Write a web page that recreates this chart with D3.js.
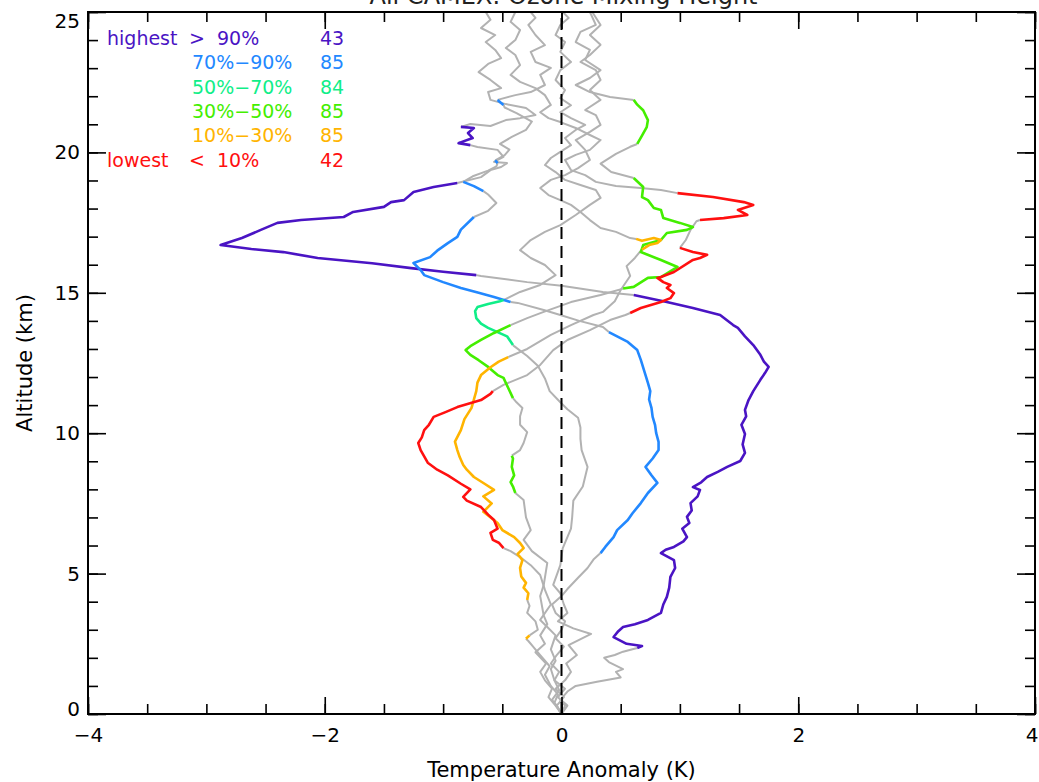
<!DOCTYPE html>
<html>
<head>
<meta charset="utf-8">
<script src="https://cdn.jsdelivr.net/npm/d3@7"></script>
<style>
  body { margin: 0; background: #fff; }
  svg { display: block; }
  text { font-family: "DejaVu Sans", sans-serif; }
</style>
</head>
<body>
<svg id="chart" width="1039" height="782"></svg>
<script>
// ---- data ----
const chartTitle = "All CAMEX: Ozone Mixing Height";
const xLabel = "Temperature Anomaly (K)";
const yLabel = "Altitude (km)";
const xMajorTicks = [-4, -2, 0, 2, 4];
const yMajorTicks = [0, 5, 10, 15, 20, 25];

const classNames = ["highest", "", "", "", "", "lowest"];
const classRanges = ["> 90%", "70%\u221290%", "50%\u221270%", "30%\u221250%", "10%\u221230%", "< 10%"];
const classCounts = [43, 85, 84, 85, 85, 42];
const classColors = ["#4a14c4", "#2288ff", "#10ee88", "#44ee00", "#ffb400", "#ff1010"];

// each point: [anomaly K, altitude km, 1 = significant (coloured) / 0 = grey]
const profileHighest = [
  [0.00,0.0,0],[0.03,0.3,0],[-0.01,0.5,0],[0.05,0.8,0],[0.12,1.0,0],[0.30,1.15,0],[0.50,1.3,0],
  [0.46,1.5,0],[0.52,1.6,0],[0.40,1.85,0],[0.36,2.0,0],[0.45,2.1,0],[0.52,2.22,0],
  [0.64,2.35,1],[0.68,2.42,1],[0.55,2.5,1],[0.44,2.74,1],[0.48,2.95,1],[0.52,3.1,1],[0.62,3.2,1],
  [0.73,3.35,1],[0.84,3.6,1],[0.86,3.9,1],[0.89,4.17,1],[0.91,4.5,1],[0.92,4.88,1],[0.96,5.2,1],
  [0.95,5.48,1],[0.84,5.73,1],[0.88,5.85,1],[0.95,5.95,1],[1.03,6.15,1],[1.06,6.3,1],[1.02,6.6,1],
  [1.08,6.8,1],[1.06,7.02,1],[1.10,7.25,1],[1.09,7.51,1],[1.15,7.75,1],[1.17,7.98,1],[1.11,8.08,1],
  [1.18,8.25,1],[1.23,8.44,1],[1.32,8.62,1],[1.40,8.8,1],[1.51,9.01,1],[1.55,9.3,1],[1.53,9.6,1],
  [1.55,9.97,1],[1.52,10.3,1],[1.56,10.6,1],[1.55,10.83,1],[1.58,11.18,1],[1.62,11.5,1],[1.68,11.9,1],
  [1.72,12.15,1],[1.75,12.36,1],[1.71,12.55,1],[1.68,12.79,1],[1.62,13.14,1],[1.55,13.45,1],
  [1.49,13.75,1],[1.45,13.85,1],[1.34,14.21,1],[1.11,14.46,1],[0.89,14.67,1],[0.61,14.92,1],
  [0.35,15.03,0],[0.00,15.25,0],[-0.29,15.38,0],[-0.68,15.6,0],
  [-0.72,15.63,1],[-1.00,15.75,1],[-1.27,15.88,1],[-1.60,16.05,1],[-2.06,16.24,1],[-2.35,16.45,1],
  [-2.62,16.56,1],[-2.88,16.70,1],[-2.70,16.95,1],[-2.54,17.24,1],[-2.40,17.49,1],[-2.20,17.59,1],
  [-1.84,17.70,1],[-1.76,17.88,1],[-1.50,18.06,1],[-1.44,18.23,1],[-1.33,18.30,1],[-1.25,18.59,1],
  [-1.08,18.77,1],[-0.88,18.91,1],
  [-0.68,19.12,0],[-0.60,19.37,0],[-0.51,19.48,0],[-0.46,19.62,0],[-0.57,19.66,0],[-0.49,19.84,0],
  [-0.54,20.09,0],[-0.71,20.19,0],
  [-0.77,20.26,1],[-0.87,20.33,1],[-0.75,20.51,1],[-0.79,20.69,1],[-0.74,20.87,1],[-0.85,20.91,1],
  [-0.77,21.01,0],[-0.60,20.94,0],[-0.47,21.15,0],[-0.35,21.22,0],[-0.22,21.33,0],[-0.30,21.58,0],
  [-0.47,21.72,0],[-0.60,21.87,0],[-0.62,22.15,0],[-0.51,22.29,0],[-0.60,22.58,0],[-0.70,22.86,0],
  [-0.62,23.15,0],[-0.51,23.36,0],[-0.56,23.65,0],[-0.64,23.93,0],[-0.56,24.18,0],[-0.68,24.43,0],
  [-0.60,24.72,0],[-0.64,25.0,0]
];

const profile70to90 = [
  [0.00,0.0,0],[0.05,0.3,0],[-0.03,0.6,0],[0.03,0.9,0],[-0.06,1.2,0],[-0.02,1.5,0],[-0.09,1.8,0],
  [-0.04,2.1,0],[0.02,2.4,0],[-0.05,2.7,0],[0.00,3.0,0],[0.03,3.3,0],[-0.05,3.6,0],[-0.08,3.9,0],
  [0.00,4.2,0],[0.05,4.45,0],[0.14,4.85,0],[0.22,5.2,0],[0.27,5.5,0],
  [0.33,5.73,1],[0.37,5.95,1],[0.44,6.3,1],[0.47,6.55,1],[0.56,6.91,1],[0.60,7.15,1],[0.67,7.51,1],
  [0.73,7.87,1],[0.81,8.23,1],[0.76,8.5,1],[0.71,8.8,1],[0.77,9.1,1],[0.82,9.4,1],[0.82,9.69,1],
  [0.80,10.0,1],[0.79,10.3,1],[0.77,10.58,1],[0.76,10.9,1],[0.74,11.2,1],[0.75,11.5,1],[0.73,11.79,1],
  [0.70,12.2,1],[0.67,12.61,1],[0.64,12.96,1],[0.56,13.25,1],[0.40,13.60,1],
  [0.35,13.78,0],[0.15,14.0,0],[-0.01,14.21,0],[-0.15,14.39,0],[-0.37,14.64,0],
  [-0.43,14.67,1],[-0.57,14.85,1],[-0.70,15.0,1],[-0.85,15.17,1],[-1.00,15.38,1],[-1.16,15.63,1],
  [-1.19,15.81,1],[-1.25,16.06,1],[-1.11,16.27,1],[-1.05,16.5,1],[-0.96,16.77,1],[-0.88,16.99,1],
  [-0.85,17.25,1],[-0.74,17.70,1],
  [-0.62,17.92,0],[-0.55,18.2,0],[-0.62,18.5,0],
  [-0.66,18.62,1],[-0.74,18.8,1],[-0.83,18.95,1],
  [-0.75,19.15,0],[-0.62,19.35,0],[-0.55,19.5,0],
  [-0.54,19.62,1],[-0.56,19.72,1],
  [-0.48,19.9,0],[-0.44,20.1,0],[-0.52,20.3,0],[-0.42,20.55,0],[-0.30,20.8,0],[-0.25,21.1,0],
  [-0.38,21.4,0],[-0.48,21.6,0],
  [-0.49,21.69,1],[-0.54,21.87,1],
  [-0.39,22.04,0],[-0.26,22.15,0],[-0.14,22.4,0],[-0.18,22.76,0],[-0.09,23.01,0],[-0.22,23.22,0],
  [-0.26,23.58,0],[-0.14,23.82,0],[-0.22,24.18,0],[-0.28,24.54,0],[-0.22,24.79,0],[-0.26,25.0,0]
];

const profile50to70 = [
  [0.00,0.0,0],[-0.04,0.3,0],[0.02,0.6,0],[-0.05,0.9,0],[0.03,1.2,0],[0.08,1.5,0],[0.04,1.8,0],
  [0.13,2.1,0],[0.06,2.45,0],[0.25,2.85,0],[0.10,3.05,0],[-0.03,3.3,0],[0.05,3.6,0],[0.02,3.9,0],
  [-0.01,4.3,0],[-0.07,4.6,0],[-0.01,5.3,0],[0.01,5.9,0],[0.08,6.6,0],[0.09,7.0,0],[0.10,7.6,0],
  [0.18,8.1,0],[0.22,8.8,0],[0.17,9.4,0],[0.16,9.8,0],[0.16,10.2,0],[0.14,10.55,0],[0.05,10.85,0],
  [-0.01,11.1,0],[-0.10,11.5,0],[-0.14,11.95,0],[-0.20,12.4,0],[-0.29,12.75,0],[-0.40,13.1,0],
  [-0.41,13.14,1],[-0.46,13.45,1],[-0.54,13.6,1],[-0.62,13.75,1],[-0.68,13.9,1],[-0.72,14.1,1],
  [-0.73,14.35,1],[-0.71,14.49,1],[-0.62,14.6,1],[-0.52,14.7,1],[-0.49,14.74,1],
  [-0.35,15.03,0],[-0.18,15.28,0],[-0.05,15.63,0],[-0.14,15.99,0],[-0.26,16.24,0],[-0.35,16.52,0],
  [-0.26,16.88,0],[-0.14,17.17,0],[-0.01,17.41,0],[0.12,17.77,0],[0.24,18.13,0],[0.33,18.38,0],
  [0.29,18.66,0],[0.16,18.84,0],[0.03,19.02,0],[-0.05,19.3,0],[-0.14,19.55,0],[-0.09,19.8,0],
  [-0.01,20.02,0],[0.08,20.26,0],[0.03,20.51,0],[0.12,20.8,0],[0.20,20.98,0],[0.08,21.22,0],
  [-0.01,21.43,0],[0.08,21.68,0],[-0.01,21.93,0],[0.03,22.22,0],[-0.05,22.58,0],[-0.01,22.93,0],
  [0.08,23.22,0],[-0.01,23.58,0],[0.03,23.93,0],[-0.05,24.18,0],[-0.01,24.54,0],[0.06,24.79,0],
  [0.01,25.0,0]
];

const profile30to50 = [
  [0.00,0.0,0],[-0.05,0.3,0],[-0.11,0.6,0],[-0.08,0.9,0],[-0.14,1.2,0],[-0.18,1.5,0],[-0.13,1.8,0],
  [-0.22,2.2,0],[-0.14,2.5,0],[-0.18,2.8,0],[-0.12,3.2,0],[-0.15,3.5,0],[-0.18,4.2,0],[-0.15,4.6,0],
  [-0.12,5.38,0],[-0.25,5.8,0],[-0.32,6.2,0],[-0.26,6.55,0],[-0.30,7.0,0],[-0.32,7.62,0],
  [-0.39,7.87,1],[-0.41,8.1,1],[-0.43,8.26,1],[-0.40,8.5,1],[-0.42,8.8,1],[-0.41,9.1,1],[-0.42,9.2,1],
  [-0.35,9.4,0],[-0.32,9.65,0],[-0.29,10.04,0],[-0.35,10.3,0],[-0.35,10.6,0],[-0.33,10.9,0],[-0.38,11.1,0],
  [-0.41,11.25,1],[-0.45,11.61,1],[-0.49,11.97,1],[-0.54,12.07,1],[-0.62,12.36,1],[-0.70,12.6,1],
  [-0.77,12.79,1],[-0.81,12.96,1],[-0.77,13.1,1],[-0.68,13.32,1],[-0.57,13.57,1],[-0.43,13.85,1],
  [-0.29,14.1,0],[-0.15,14.32,0],[0.08,14.67,0],[0.33,14.92,0],[0.42,15.03,0],
  [0.52,15.15,1],[0.61,15.21,1],[0.73,15.53,1],[0.84,15.56,1],[0.98,15.92,1],[0.84,16.17,1],
  [0.67,16.45,1],[0.69,16.7,1],[0.75,16.77,1],[0.84,16.88,1],[0.89,17.13,1],[1.06,17.24,1],
  [1.11,17.34,1],[1.00,17.49,1],[0.86,17.66,1],[0.84,17.95,1],[0.78,18.02,1],[0.73,18.3,1],
  [0.68,18.41,1],[0.69,18.77,1],[0.61,19.09,1],
  [0.42,19.3,0],[0.33,19.6,0],[0.46,19.95,0],[0.58,20.2,0],
  [0.64,20.3,1],[0.68,20.6,1],[0.72,20.9,1],[0.73,21.15,1],[0.69,21.5,1],[0.64,21.7,1],[0.61,21.87,1],
  [0.41,21.97,0],[0.24,22.15,0],[0.12,22.4,0],[0.24,22.65,0],[0.33,22.93,0],[0.20,23.29,0],
  [0.24,23.65,0],[0.12,23.93,0],[0.16,24.29,0],[0.29,24.54,0],[0.24,25.0,0]
];

const profile10to30 = [
  [0.00,0.0,0],[-0.06,0.4,0],[-0.03,0.7,0],[-0.09,1.0,0],[-0.14,1.4,0],[-0.10,1.7,0],[-0.18,2.1,0],
  [-0.24,2.4,0],[-0.28,2.6,0],
  [-0.30,2.68,1],[-0.27,2.8,1],
  [-0.20,3.0,0],[-0.22,3.3,0],[-0.29,3.6,0],[-0.27,3.85,0],
  [-0.29,4.06,1],[-0.28,4.3,1],[-0.32,4.5,1],[-0.30,4.67,1],[-0.34,4.9,1],[-0.35,5.2,1],[-0.33,5.48,1],
  [-0.37,5.7,1],[-0.32,5.91,1],[-0.35,6.09,1],[-0.40,6.3,1],[-0.50,6.55,1],[-0.54,6.8,1],[-0.66,7.2,1],
  [-0.59,7.5,1],[-0.66,7.75,1],[-0.57,7.98,1],[-0.65,8.2,1],[-0.74,8.44,1],[-0.80,8.7,1],[-0.83,8.87,1],
  [-0.86,9.15,1],[-0.88,9.40,1],[-0.90,9.7,1],[-0.85,10.11,1],[-0.82,10.5,1],[-0.76,10.9,1],
  [-0.74,11.2,1],[-0.72,11.5,1],[-0.71,11.8,1],[-0.68,12.07,1],[-0.60,12.35,1],[-0.53,12.55,1],
  [-0.45,12.71,1],
  [-0.29,13.0,0],[-0.09,13.5,0],[0.08,13.85,0],[0.27,14.21,0],[0.35,14.32,0],[0.45,14.7,0],
  [0.50,15.1,0],[0.58,15.6,0],[0.55,15.95,0],[0.62,16.24,0],[0.66,16.45,0],
  [0.68,16.54,1],[0.74,16.7,1],[0.81,16.77,1],[0.84,16.88,1],[0.78,16.95,1],[0.68,16.85,1],[0.63,16.92,1],
  [0.58,16.95,0],[0.46,17.17,0],[0.33,17.31,0],[0.24,17.59,0],[0.16,17.88,0],[0.08,18.13,0],
  [-0.01,18.30,0],[-0.11,18.48,0],[-0.18,18.73,0],[-0.09,19.02,0],[0.03,19.19,0],[0.14,19.44,0],
  [0.24,19.73,0],[0.20,20.09,0],[0.12,20.44,0],[0.24,20.73,0],[0.33,20.98,0],[0.29,21.33,0],
  [0.20,21.51,0],[0.33,21.87,0],[0.24,22.22,0],[0.33,22.58,0],[0.29,22.93,0],[0.16,23.22,0],
  [0.24,23.47,0],[0.33,23.83,0],[0.24,24.18,0],[0.33,24.54,0],[0.26,25.0,0]
];

const profileLowest = [
  [0.00,0.0,0],[-0.04,0.3,0],[-0.08,0.5,0],[-0.02,0.85,0],[-0.06,1.2,0],[-0.09,1.6,0],[-0.05,1.9,0],
  [-0.09,2.3,0],[-0.05,2.8,0],[-0.12,3.1,0],[-0.18,3.35,0],[-0.09,3.9,0],[-0.14,4.42,0],[-0.18,4.95,0],
  [-0.26,5.3,0],[-0.35,5.59,0],[-0.43,5.8,0],
  [-0.49,5.91,1],[-0.53,6.1,1],[-0.58,6.2,1],[-0.60,6.45,1],[-0.54,6.6,1],[-0.57,6.91,1],[-0.62,7.1,1],
  [-0.68,7.37,1],[-0.80,7.6,1],[-0.83,7.73,1],[-0.77,8.0,1],[-0.85,8.2,1],[-0.96,8.5,1],[-1.05,8.7,1],
  [-1.13,8.95,1],[-1.19,9.4,1],[-1.21,9.65,1],[-1.18,9.85,1],[-1.16,10.11,1],[-1.12,10.3,1],
  [-1.08,10.58,1],[-0.98,10.75,1],[-0.88,10.93,1],[-0.68,11.18,1],[-0.60,11.4,1],[-0.58,11.5,1],
  [-0.49,11.72,0],[-0.29,12.07,0],[-0.18,12.43,0],[-0.07,12.96,0],[0.05,13.32,0],[0.24,13.67,0],
  [0.41,14.03,0],[0.54,14.21,0],
  [0.58,14.28,1],[0.67,14.46,1],[0.84,14.67,1],[0.92,14.81,1],[0.95,14.99,1],[0.89,15.17,1],
  [0.92,15.28,1],[0.86,15.38,1],[0.81,15.53,1],[0.84,15.56,1],[0.95,15.74,1],[1.11,16.17,1],
  [1.17,16.24,1],[1.23,16.35,1],[1.11,16.45,1],[1.00,16.60,1],
  [1.05,16.88,0],[1.09,17.24,0],[1.14,17.55,0],
  [1.17,17.59,1],[1.37,17.66,1],[1.57,17.77,1],[1.49,17.95,1],[1.62,18.13,1],[1.54,18.23,1],
  [1.28,18.41,1],[0.98,18.55,1],
  [0.84,18.66,0],[0.67,18.73,0],[0.46,18.8,0],[0.29,18.95,0],[0.20,19.19,0],[0.08,19.37,0],
  [0.03,19.73,0],[0.12,19.91,0],[0.24,20.09,0],[0.33,20.44,0],[0.24,20.62,0],[0.12,20.87,0],
  [-0.01,21.08,0],[-0.11,21.22,0],[-0.18,21.43,0],[-0.09,21.69,0],[-0.14,22.04,0],[-0.22,22.29,0],
  [-0.35,22.51,0],[-0.43,22.76,0],[-0.35,23.11,0],[-0.39,23.47,0],[-0.47,23.72,0],[-0.39,24.0,0],
  [-0.35,24.36,0],[-0.43,24.65,0],[-0.39,25.0,0]
];

const profiles = [profileHighest, profile70to90, profile50to70, profile30to50, profile10to30, profileLowest];
const greyColor = "#b2b2b2";

// ---- chart ----
const svg = d3.select("#chart");
const margin = { left: 88, right: 4, top: 12, bottom: 68 };
const W = +svg.attr("width"), H = +svg.attr("height");
const x = d3.scaleLinear().domain([-4, 4]).range([margin.left, W - margin.right]);
const y = d3.scaleLinear().domain([0, 25]).range([H - margin.bottom, margin.top]);
const line = d3.line().x(d => x(d[0])).y(d => y(d[1]));

// split a profile into grey / coloured runs
function pieces(pts) {
  const out = [];
  for (let i = 0; i < pts.length - 1; i++) {
    const c = pts[i][2] && pts[i + 1][2] ? 1 : 0;
    const last = out[out.length - 1];
    if (last && last.c === c) last.pts.push(pts[i + 1]);
    else out.push({ c: c, pts: [pts[i], pts[i + 1]] });
  }
  return out;
}

const runs = [];
profiles.forEach((p, k) => pieces(p).forEach(r => runs.push({ k: k, c: r.c, pts: r.pts })));

const lines = svg.append("g");
lines.selectAll(".grey").data(runs.filter(r => !r.c)).enter()
  .append("path").attr("class", "grey")
  .attr("d", d => line(d.pts))
  .attr("fill", "none").attr("stroke", greyColor).attr("stroke-width", 2)
  .attr("stroke-linejoin", "round");
lines.selectAll(".sig").data(runs.filter(r => r.c)).enter()
  .append("path").attr("class", "sig")
  .attr("d", d => line(d.pts))
  .attr("fill", "none").attr("stroke", d => classColors[d.k]).attr("stroke-width", 2.6)
  .attr("stroke-linejoin", "round");

// zero line
svg.append("line")
  .attr("x1", x(0)).attr("x2", x(0)).attr("y1", y(0)).attr("y2", y(25))
  .attr("stroke", "#000").attr("stroke-width", 2).attr("stroke-dasharray", "12,7");

// axes (ticks point inward)
const xMinor = d3.range(-4, 4.01, 0.5);
const yMinor = d3.range(0, 25.01, 1);
function styleAxis(g) {
  g.select(".domain").remove();
  g.selectAll("line").attr("stroke", "#000").attr("stroke-width", 1.6);
  g.selectAll("text").attr("font-size", 20).attr("fill", "#000")
    .attr("font-family", "DejaVu Sans, sans-serif");
}
const yb = y(0), yt = y(25), xl = x(-4), xr = x(4);

svg.append("g").attr("transform", `translate(0,${yb})`)
  .call(d3.axisBottom(x).tickValues(xMinor).tickSizeInner(-10).tickFormat("")).call(styleAxis);
const xAx = svg.append("g").attr("transform", `translate(0,${yb})`)
  .call(d3.axisBottom(x).tickValues(xMajorTicks).tickSizeInner(-17).tickPadding(14)).call(styleAxis);
xAx.selectAll(".tick text").filter(d => d === 4).attr("text-anchor", "end").attr("dx", 3);
svg.append("g").attr("transform", `translate(0,${yt})`)
  .call(d3.axisTop(x).tickValues(xMinor).tickSizeInner(-10).tickFormat("")).call(styleAxis);
svg.append("g").attr("transform", `translate(0,${yt})`)
  .call(d3.axisTop(x).tickValues(xMajorTicks).tickSizeInner(-17).tickFormat("")).call(styleAxis);

svg.append("g").attr("transform", `translate(${xl},0)`)
  .call(d3.axisLeft(y).tickValues(yMinor).tickSizeInner(-10).tickFormat("")).call(styleAxis);
const yAx = svg.append("g").attr("transform", `translate(${xl},0)`)
  .call(d3.axisLeft(y).tickValues(yMajorTicks).tickSizeInner(-18).tickPadding(8)).call(styleAxis);
yAx.selectAll(".tick text").attr("dy", d => d === 25 ? "0.75em" : d === 0 ? "0.05em" : "0.32em");
svg.append("g").attr("transform", `translate(${xr},0)`)
  .call(d3.axisRight(y).tickValues(yMinor).tickSizeInner(-10).tickFormat("")).call(styleAxis);
svg.append("g").attr("transform", `translate(${xr},0)`)
  .call(d3.axisRight(y).tickValues(yMajorTicks).tickSizeInner(-18).tickFormat("")).call(styleAxis);

// frame
svg.append("rect")
  .attr("x", xl).attr("y", yt).attr("width", xr - xl).attr("height", yb - yt)
  .attr("fill", "none").attr("stroke", "#000").attr("stroke-width", 2);

// titles (the reference shows only the lower part of the title)
svg.append("text").attr("x", (xl + xr) / 2 + 2).attr("y", 4)
  .attr("text-anchor", "middle").attr("font-size", 24).attr("fill", "#222").text(chartTitle);
svg.append("text").attr("x", (xl + xr) / 2).attr("y", 777)
  .attr("text-anchor", "middle").attr("font-size", 21).attr("fill", "#000").text(xLabel);
svg.append("text").attr("transform", `translate(32,${(yt + yb) / 2}) rotate(-90)`)
  .attr("text-anchor", "middle").attr("font-size", 21).attr("fill", "#000").text(yLabel);

// legend
const leg = svg.append("g").attr("font-size", 19);
classRanges.forEach((r, i) => {
  const ly = 45 + i * 24.3;
  if (classNames[i]) leg.append("text").attr("x", 107).attr("y", ly).attr("fill", classColors[i]).text(classNames[i]);
  leg.append("text").attr("x", i === 0 || i === 5 ? 189 : 192).attr("y", ly).attr("fill", classColors[i])
    .attr("xml:space", "preserve").text(r.replace(" ", "  "));
  leg.append("text").attr("x", 320).attr("y", ly).attr("fill", classColors[i]).text(classCounts[i]);
});
</script>
</body>
</html>
